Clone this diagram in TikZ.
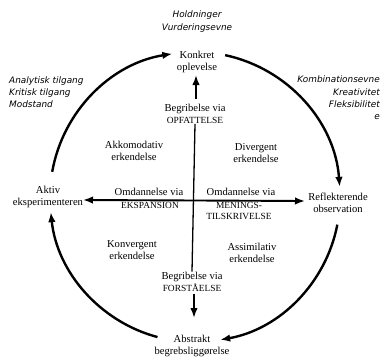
\documentclass[tikz,border=0pt]{standalone}
\usepackage{fontspec}
\usepackage{tikz}
\usetikzlibrary{arrows.meta}
\setmainfont{Liberation Serif}
\newfontfamily\kommentfont{DejaVu Sans}

\begin{document}
\begin{tikzpicture}[x = 1pt, y = 1pt]
\tikzstyle{TekstStyle}=[align = center,
                        inner sep = 0pt,
                        font = \fontsize{10.6}{12}\selectfont]
\tikzstyle{KommentStyle}=[inner sep = 0pt,
                          font = \kommentfont\itshape\fontsize{8.9}{12.3}\selectfont]
\tikzstyle{CapsStyle}=[align = center,
                       inner sep = 0pt,
                       font = \fontsize{9.4}{11.5}\selectfont]
\tikzstyle{BueStyle}=[line width = 2.4pt, -{Latex[length = 10pt, width = 7.5pt]}]
\tikzstyle{PilStyle}=[line width = 1.9pt, -{Latex[length = 10pt, width = 7.5pt]}]
\useasboundingbox (0,0) rectangle (383,360);
% hjoerner
\node[TekstStyle] (konkret) at (197, 298.5) {Konkret\\oplevelse};
\node[TekstStyle] (aktiv) at (48, 163) {Aktiv\\eksperimenteren};
\node[TekstStyle] (reflek) at (338, 157.5) {Reflekterende\\observation};
\node[TekstStyle] (abstrakt) at (192, 14) {Abstrakt\\begrebsligg\o relse};
% kommentarer
\node[KommentStyle, align = center] (hold) at (197, 338.5) {Holdninger\\Vurderingsevne};
\node[KommentStyle, align = left, anchor = west] (analyt) at (9, 268) {Analytisk tilgang\\Kritisk tilgang\\Modstand};
\node[KommentStyle, align = right, anchor = east] (kombi) at (380, 262) {Kombinationsevne\\Kreativitet\\Fleksibilitet\\e};
% felter
\node[TekstStyle] (akko) at (134, 209) {Akkomodativ\\erkendelse};
\node[TekstStyle] (diverg) at (256, 206.5) {Divergent\\erkendelse};
\node[TekstStyle] (konv) at (132, 110) {Konvergent\\erkendelse};
\node[TekstStyle] (assim) at (252, 107.5) {Assimilativ\\erkendelse};
% akser
\node[TekstStyle] (opfat) at (195, 246) {Begribelse via\\{\fontsize{9.4}{11.5}\selectfont OPFATTELSE}};
\node[TekstStyle] (forst) at (192, 78.5) {Begribelse via\\{\fontsize{9.4}{11.5}\selectfont FORST\AA ELSE}};
\node[TekstStyle] (omdL) at (149, 168) {Omdannelse via};
\node[CapsStyle] (ekspan) at (150, 155) {EKSPANSION};
\node[TekstStyle] (omdR) at (241, 168) {Omdannelse via};
\node[CapsStyle] (menings) at (239, 149) {MENINGS-\\TILSKRIVELSE};
\coordinate (centrum) at (196, 159.5);
\coordinate (venstre) at (83, 160);
\coordinate (hoejre) at (305, 159);
\coordinate (opstart) at (196, 261);
\coordinate (op) at (196, 285);
\coordinate (nedstart) at (194, 66);
\coordinate (ned) at (194, 42);
\coordinate (C) at (195, 163);
\draw[PilStyle] (centrum) -- (venstre);
\draw[PilStyle] (centrum) -- (hoejre);
\draw[line width = 1.3pt] (opfat.south) -- (forst.north);
\draw[PilStyle] (opstart) -- (op);
\draw[PilStyle] (nedstart) -- (ned);
% cirklen
\draw[BueStyle] ([shift = {(170:145)}]C) arc[start angle = 170, end angle = 99, radius = 145];
\draw[BueStyle] ([shift = {(78:145)}]C) arc[start angle = 78, end angle = 4, radius = 145];
\draw[BueStyle] ([shift = {(-11:145)}]C) arc[start angle = -11, end angle = -80, radius = 145];
\draw[BueStyle] ([shift = {(255:145)}]C) arc[start angle = 255, end angle = 186, radius = 145];
\end{tikzpicture}
\end{document}
